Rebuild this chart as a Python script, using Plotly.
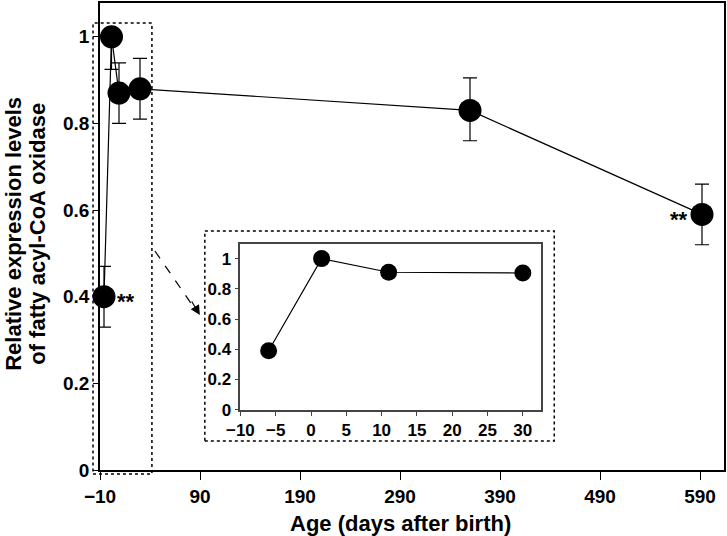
import plotly.graph_objects as go

# ---- data ----
days = [-6, 1.5, 9, 30, 360, 592]
expr = [0.40, 1.00, 0.87, 0.88, 0.83, 0.59]
err_plus = [0.07, 0.0, 0.07, 0.07, 0.075, 0.07]
err_minus = [0.07, 0.075, 0.07, 0.07, 0.07, 0.07]

inset_days = [-6, 1.5, 11, 30]
inset_expr = [0.39, 1.00, 0.91, 0.905]

x_ticks = [-10, 90, 190, 290, 390, 490, 590]
y_ticks = [0, 0.2, 0.4, 0.6, 0.8, 1]
y_tick_text = ["0", "0.2", "0.4", "0.6", "0.8", "1"]
inset_x_ticks = [-10, -5, 0, 5, 10, 15, 20, 25, 30]

y_title_lines = ["Relative expression levels", "of fatty acyl-CoA oxidase"]
x_title = "Age (days after birth)"

FONT = "Liberation Sans"

fig = go.Figure()

fig.add_trace(go.Scatter(
    x=days, y=expr, mode="lines+markers",
    line=dict(color="black", width=1.2),
    marker=dict(color="black", size=23),
    error_y=dict(type="data", symmetric=False, array=err_plus, arrayminus=err_minus,
                 color="black", thickness=1.2, width=7),
    cliponaxis=False, showlegend=False, hoverinfo="skip",
))

fig.add_trace(go.Scatter(
    x=inset_days, y=inset_expr, mode="lines+markers",
    line=dict(color="black", width=1.2),
    marker=dict(color="black", size=17),
    xaxis="x2", yaxis="y2", cliponaxis=False, showlegend=False, hoverinfo="skip",
))

axis_font = dict(family=FONT, size=19, color="black", weight="bold")
inset_font = dict(family=FONT, size=17, color="black", weight="bold")

fig.update_layout(
    width=727, height=536,
    margin=dict(l=100, r=2, t=1, b=66),
    plot_bgcolor="white", paper_bgcolor="white",
    font=dict(family=FONT, color="black"),
    xaxis=dict(
        range=[-10, 614], tickvals=x_ticks, ticks="outside", ticklen=8, tickwidth=1.2,
        tickcolor="black", showline=True, linecolor="black", linewidth=1.5, mirror=True,
        showgrid=False, zeroline=False, tickfont=axis_font,
    ),
    yaxis=dict(
        range=[0, 1.078], tickvals=y_ticks, ticktext=y_tick_text, ticks="outside", ticklen=5,
        tickwidth=1.2, tickcolor="black", showline=True, linecolor="black", linewidth=1.5,
        mirror=True, showgrid=False, zeroline=False, tickfont=axis_font,
    ),
    xaxis2=dict(
        domain=[0.225, 0.707], anchor="y2", range=[-10, 32.6], tickvals=inset_x_ticks,
        ticks="outside", ticklen=4, tickcolor="#444", showline=True, linecolor="#444",
        linewidth=1.5, mirror=True, showgrid=False, zeroline=False, tickfont=inset_font,
    ),
    yaxis2=dict(
        domain=[0.129, 0.485], anchor="x2", range=[0, 1.1], tickvals=y_ticks, ticktext=y_tick_text,
        ticks="outside", ticklen=4, tickcolor="#444", showline=True, linecolor="#444",
        linewidth=1.5, mirror=True, showgrid=False, zeroline=False, tickfont=inset_font,
    ),
)

title_font = dict(family=FONT, size=22, color="black", weight="bold")

# y-axis title (two lines)
for xp, line in zip([-0.1376, -0.0992], y_title_lines):
    fig.add_annotation(text=line, xref="paper", yref="paper", x=xp, y=0.506,
                       xanchor="center", yanchor="middle", textangle=-90, showarrow=False,
                       font=title_font)

# x-axis title
fig.add_annotation(text=x_title, xref="paper", yref="paper", x=0.482, y=0, yshift=-53,
                   xanchor="center", yanchor="middle", showarrow=False,
                   font=dict(family=FONT, size=22, color="black", weight="bold"))

# significance marks
star_font = dict(family=FONT, size=22, weight="bold", color="black")
fig.add_annotation(text="**", x=days[0], y=expr[0], xshift=11, yshift=-5, showarrow=False,
                   xanchor="left", font=star_font)
fig.add_annotation(text="**", x=days[-1], y=expr[-1], xshift=-12, yshift=-5, showarrow=False,
                   xanchor="right", font=star_font)

# dashed boxes
dash_line = dict(color="black", width=1.5, dash="dot")
fig.add_shape(type="rect", xref="paper", yref="paper", x0=-0.0112, x1=0.0832, y0=-0.0085, y1=0.957,
              line=dash_line, layer="above")
fig.add_shape(type="rect", xref="paper", yref="paper", x0=0.168, x1=0.728, y0=0.062, y1=0.512,
              line=dash_line, layer="above")

# dashed arrow
fig.add_shape(type="line", xref="paper", yref="paper", x0=0.088, y0=0.469, x1=0.152, y1=0.345,
              line=dict(color="black", width=1.2, dash="dash"))
fig.add_annotation(xref="paper", yref="paper", x=0.16, y=0.332, ax=-9, ay=-15, text="",
                   showarrow=True, arrowhead=2, arrowsize=1.6, arrowwidth=1.2, arrowcolor="black")

fig.write_html("out.html", config={"displayModeBar": False},
               post_script="document.body.style.margin='0';")
